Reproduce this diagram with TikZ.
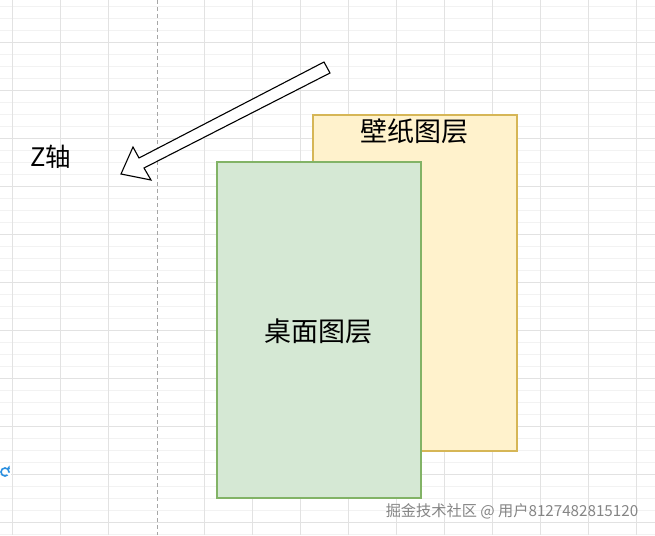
\documentclass[tikz,border=0pt]{standalone}
\usepackage{fontspec}
\setmainfont{Noto Sans CJK SC}
\usetikzlibrary{arrows.meta}
\definecolor{wallfill}{HTML}{FFF2CC}
\definecolor{wallline}{HTML}{D6B656}
\definecolor{deskfill}{HTML}{D5E8D4}
\definecolor{deskline}{HTML}{82B366}
\definecolor{gridmajor}{HTML}{E2E2E2}
\definecolor{gridminor}{HTML}{F2F2F2}
\definecolor{iconblue}{HTML}{2A8FE0}
\tikzset{
  majorgrid/.style={draw=gridmajor, line width=0.8pt},
  minorgrid/.style={draw=gridminor, line width=0.8pt},
  guideline/.style={draw=black!35, line width=0.8pt, dash pattern=on 4pt off 3pt},
  layerbox/.style={minimum width=204pt, minimum height=336pt, inner sep=0pt, line width=1.3pt},
  wallbox/.style={layerbox, fill=wallfill, draw=wallline},
  deskbox/.style={layerbox, fill=deskfill, draw=deskline},
  bigtext/.style={font=\fontsize{27}{31}\selectfont, inner sep=0pt},
  marktext/.style={font=\fontsize{15.2}{18}\selectfont, text=black!48, inner sep=0pt},
  blockarrow/.style={draw=black, fill=white, line width=1.1pt, line join=miter},
}
\begin{document}
\begin{tikzpicture}[x=1pt,y=-1pt]
\useasboundingbox (0,0) rectangle (655,535);
\fill[white] (0,0) rectangle (655,535);
% grid
\foreach \y in {6,18,...,534} \draw[minorgrid] (0,\y) -- (655,\y);
\foreach \y in {42,90,...,522} \draw[majorgrid] (0,\y) -- (655,\y);
\foreach \x in {12,60,108,204,252,300,348,396,444,492,540,588,636} \draw[majorgrid] (\x,0) -- (\x,535);
\draw[guideline] (157,0) -- (157,535);
% layers
\node[wallbox] (wall) at (415,283) {};
\node[bigtext] (walltext) at (414,131) {壁纸图层};
\node[deskbox] (desk) at (319,330) {};
\node[bigtext] (desktext) at (318,331) {桌面图层};
% z axis
\node[bigtext, font=\fontsize{25.5}{30}\selectfont] (zaxis) at (51,157) {Z轴};
\draw[blockarrow] (324,62) -- (330,73) -- (144,168) -- (151,180) -- (121,174) -- (133,147) -- (139,158) -- cycle;
% refresh icon
\draw[iconblue, line width=1.6pt] (5,472) circle[radius=4pt];
\fill[white] (5,472) -- ++(-10:6pt) -- ++(0,-5pt) -- cycle;
\fill[iconblue] (9.8,469.3) -- (6.8,468.5) -- (9.6,465.6) -- cycle;
% watermark
\node[marktext] (mark) at (512,511) {掘金技术社区 @ 用户8127482815120};
\end{tikzpicture}
\end{document}
